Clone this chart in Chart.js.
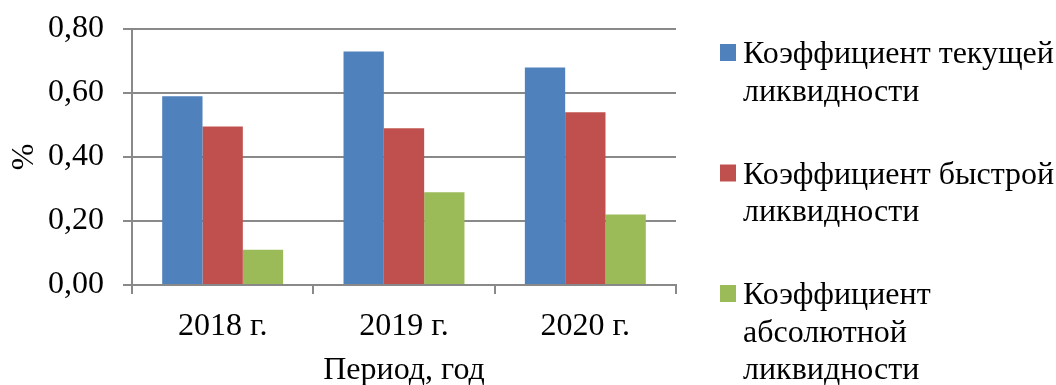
<!DOCTYPE html>
<html>
<head>
<meta charset="utf-8">
<script src="https://cdn.jsdelivr.net/npm/chart.js@4"></script>
<style>
    body { margin: 0; background: #fff; }
    #wrap { width: 1056px; height: 385px; }
</style>
</head>
<body>
<div id="wrap"><canvas id="chart" width="1056" height="385"></canvas></div>
<script>
    const categories = ['2018 г.', '2019 г.', '2020 г.'];
    const currentRatio = [0.59, 0.73, 0.68];
    const quickRatio = [0.495, 0.49, 0.54];
    const absoluteRatio = [0.11, 0.29, 0.22];

    const seriesNames = [
        ['Коэффициент текущей', 'ликвидности'],
        ['Коэффициент быстрой', 'ликвидности'],
        ['Коэффициент', 'абсолютной', 'ликвидности']
    ];
    const seriesColors = ['#4F81BD', '#C0504D', '#9BBB59'];

    const yMin = 0, yMax = 0.8, yStep = 0.2;
    const yTitle = '%';
    const xTitle = 'Период, год';

    const FONT = "'Liberation Serif', 'Times New Roman', serif";
    const FSIZE = 32;
    const GRID = '#898989';

    // legend on the right, with wrapped lines for each series
    const sideLegend = {
        id: 'sideLegend',
        afterDraw(chart) {
            const ctx = chart.ctx;
            const x0 = chart.chartArea.right + 44;
            const lineH = 37.5;
            let y = 63;
            ctx.save();
            ctx.font = FSIZE + 'px ' + FONT;
            ctx.textBaseline = 'alphabetic';
            chart.data.datasets.forEach(ds => {
                ctx.fillStyle = ds.backgroundColor;
                ctx.fillRect(x0, y - 19, 16, 17);
                ctx.fillStyle = '#000';
                ds.lines.forEach((line, i) => {
                    ctx.fillText(line, x0 + 23, y + i * lineH);
                });
                y += (ds.lines.length - 1) * lineH + 83;
            });
            ctx.restore();
        }
    };

    const seriesData = [currentRatio, quickRatio, absoluteRatio];

    new Chart(document.getElementById('chart').getContext('2d'), {
        type: 'bar',
        data: {
            labels: categories,
            datasets: seriesData.map((d, i) => ({
                label: seriesNames[i].join(' '),
                lines: seriesNames[i],
                data: d,
                backgroundColor: seriesColors[i],
                borderWidth: 0,
                categoryPercentage: 0.667,
                barPercentage: 1.0
            }))
        },
        options: {
            responsive: false,
            animation: false,
            devicePixelRatio: 1,
            layout: { padding: { top: 29, right: 380, bottom: 0, left: 0 } },
            plugins: {
                legend: { display: false },
                tooltip: { enabled: false }
            },
            scales: {
                x: {
                    afterFit: s => {
                        s.height = 100;
                        s.paddingLeft = 0;
                        s.paddingRight = 0;
                    },
                    grid: {
                        offset: true,
                        drawOnChartArea: false,
                        tickLength: 9,
                        color: GRID,
                        lineWidth: 2
                    },
                    border: { color: GRID, width: 2 },
                    ticks: {
                        color: '#000',
                        padding: 13,
                        font: { family: FONT, size: FSIZE }
                    },
                    title: {
                        display: true,
                        text: xTitle,
                        color: '#000',
                        padding: { top: 0, bottom: -5 },
                        font: { family: FONT, size: FSIZE }
                    }
                },
                y: {
                    min: yMin,
                    max: yMax,
                    afterFit: s => {
                        s.width = 132;
                        s.paddingTop = 0;
                        s.paddingBottom = 0;
                    },
                    grid: {
                        tickLength: 9,
                        color: GRID,
                        lineWidth: 2
                    },
                    border: { color: GRID, width: 2 },
                    ticks: {
                        stepSize: yStep,
                        color: '#000',
                        padding: 19,
                        font: { family: FONT, size: FSIZE },
                        callback: v => v.toFixed(2).replace('.', ',')
                    },
                    title: {
                        display: true,
                        text: yTitle,
                        color: '#000',
                        padding: { top: 5, bottom: 4 },
                        font: { family: FONT, size: FSIZE }
                    }
                }
            }
        },
        plugins: [sideLegend]
    });
</script>
</body>
</html>
